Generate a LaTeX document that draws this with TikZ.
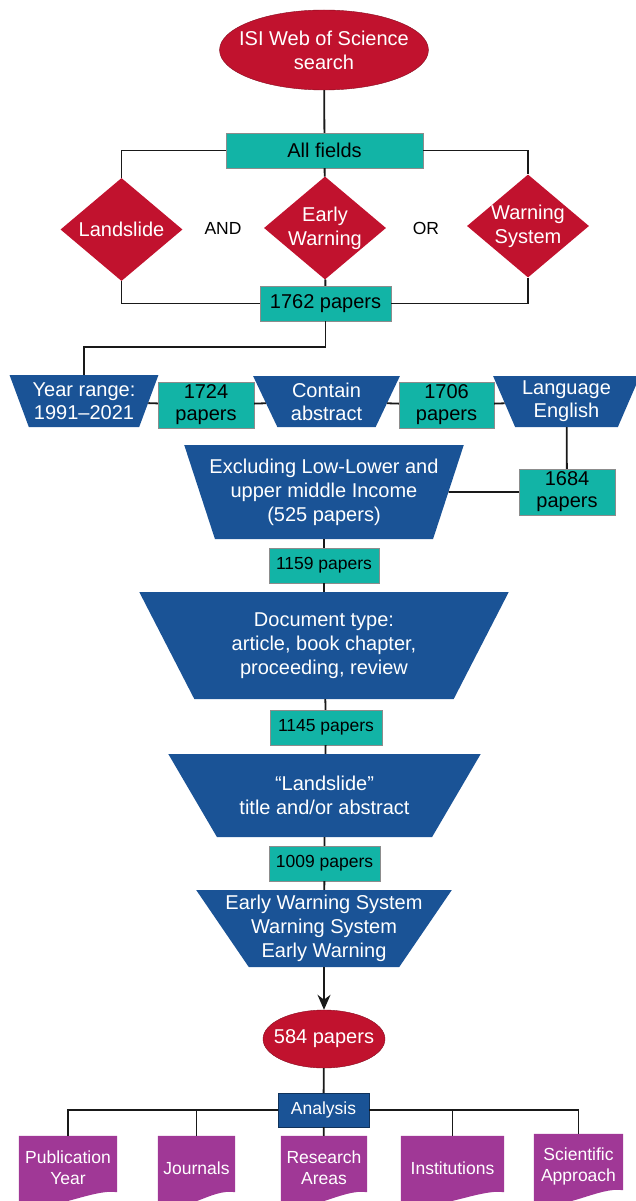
\documentclass[tikz,border=0pt]{standalone}
\usepackage{fontspec}
\setmainfont{Liberation Sans}
\usetikzlibrary{shapes.geometric,arrows.meta,backgrounds}

\definecolor{wosred}{RGB}{193,18,46}
\definecolor{wosteal}{RGB}{18,180,166}
\definecolor{wosblue}{RGB}{26,83,150}
\definecolor{wospurple}{RGB}{160,56,150}

\tikzset{
  bigtext/.style={font=\fontsize{20}{24}\selectfont},
  smalltext/.style={font=\fontsize{17.5}{21}\selectfont},
  redell/.style={ellipse, fill=wosred, draw=wosred!70!black, text=white, bigtext, inner ysep=0pt, align=center},
  query/.style={diamond, fill=wosred, text=white, bigtext, aspect=1.18, inner sep=-1pt,
    minimum width=122pt, minimum height=103pt, align=center},
  count/.style={rectangle, fill=wosteal, draw=black!45, text=black, bigtext, inner sep=0pt, align=center},
  filter/.style={trapezium, shape border rotate=180, trapezium stretches=true, fill=wosblue,
    text=white, bigtext, inner sep=0pt, align=center},
  topic/.style={rectangle, text=white, smalltext, inner sep=0pt, minimum height=64pt, align=center},
  link/.style={line width=1.8pt, black!90},
}

\begin{document}
\begin{tikzpicture}[x=1pt,y=-1pt]
\useasboundingbox (0,0) rectangle (635,1201);

% Search terms
\node[redell, minimum width=206pt, minimum height=80pt, inner xsep=-11pt] (isi) at (324,50) {ISI Web of Science\\search};
\node[count, minimum width=197pt, minimum height=35pt] (fields) at (324.5,150.5) {All fields};
\node[query] (land) at (121.5,229.5) {Landslide};
\node[query] (early) at (325,228) {Early\\Warning};
\node[query] (warn) at (528,226) {Warning\\System};
\node[smalltext] (and) at (223,228) {AND};
\node[smalltext] (or) at (426,228) {OR};
\node[count, minimum width=131pt, minimum height=35pt] (n1762) at (325.5,303.5) {1762 papers};

\draw[link] (isi) -- (fields);
\draw[link] (fields.west) -| (land.north);
\draw[link] (fields.east) -| (warn.north);
\draw[link] (fields) -- (early);
\draw[link] (land.south) |- (n1762.west);
\draw[link] (warn.south) |- (n1762.east);
\draw[link] (early) -- (n1762);

% Filters
\node[filter, trapezium angle=65, minimum width=149pt, minimum height=52pt, inner xsep=-2pt,
  font=\fontsize{20}{23}\selectfont] (years) at (84,401) {Year range:\\1991--2021};
\node[count, minimum width=96pt, minimum height=46pt, font=\fontsize{20}{22}\selectfont] (n1724) at (206,405) {1724\\papers};
\node[filter, trapezium angle=65, minimum width=147pt, minimum height=51pt,
  font=\fontsize{20}{23}\selectfont] (abstr) at (326.5,401.5) {Contain\\abstract};
\node[count, minimum width=95pt, minimum height=46pt, font=\fontsize{20}{22}\selectfont] (n1706) at (446.5,405) {1706\\papers};
\node[filter, trapezium angle=65, minimum width=147pt, minimum height=51pt,
  font=\fontsize{20}{23}\selectfont] (lang) at (566.5,401.5) {Language\\English};
\node[count, minimum width=96pt, minimum height=46pt, font=\fontsize{20}{22}\selectfont] (n1684) at (567,492) {1684\\papers};
\node[filter, trapezium angle=67, minimum width=280pt, minimum height=94pt, inner xsep=-14pt] (income) at (324,492)
  {Excluding Low-Lower and\\upper middle Income\\(525 papers)};
\node[count, smalltext, minimum width=110pt, minimum height=35pt] (n1159) at (324,565.5) {1159 papers};
\node[filter, trapezium angle=59.3, minimum width=370pt, minimum height=107pt] (doctype) at (324,645.5)
  {Document type:\\article, book chapter,\\proceeding, review};
\node[count, smalltext, minimum width=112pt, minimum height=35pt] (n1145) at (326,727.5) {1145 papers};
\node[filter, trapezium angle=47.3, minimum width=313pt, minimum height=83pt, inner xsep=-6pt] (title) at (324.5,795.5)
  {“Landslide”\\title and/or abstract};
\node[count, smalltext, minimum width=111pt, minimum height=35pt] (n1009) at (324.5,863.5) {1009 papers};
\node[filter, trapezium angle=53.5, minimum width=256pt, minimum height=77pt, inner xsep=-28pt] (ews) at (324,928.5)
  {Early Warning System\\Warning System\\Early Warning};

\draw[link] (n1762.south) -- ++(0,26) -| (years.north);
\draw[link] (years) -- (n1724) -- (abstr) -- (n1706) -- (lang);
\draw[link] (lang) -- (n1684) -- (income);
\draw[link] (income) -- (n1159) -- (doctype) -- (n1145) -- (title) -- (n1009) -- (ews);

% Result and analysis
\node[redell, minimum width=122pt, minimum height=58pt, inner xsep=-13pt] (n584) at (324,1039) {584 papers};
\node[rectangle, fill=wosblue, draw=wosblue!60!black, text=white, smalltext, inner sep=0pt,
  minimum width=91pt, minimum height=34pt] (analysis) at (323.5,1110) {Analysis};

\draw[link, -{Stealth[length=15pt, width=13pt]}] (ews) -- (n584);
\draw[link] (n584) -- (analysis);

\node[topic, minimum width=98pt] (pubyear) at (68,1168) {Publication\\Year};
\node[topic, minimum width=77pt] (journals) at (196.5,1168) {Journals};
\node[topic, minimum width=86pt] (areas) at (324,1168) {Research\\Areas};
\node[topic, minimum width=103pt] (instit) at (452.5,1168) {Institutions};
\node[topic, minimum width=89pt] (approach) at (578.5,1166) {Scientific\\Approach};

\begin{scope}[on background layer]
\foreach \t in {pubyear,journals,areas,instit,approach}
  \fill[wospurple] (\t.north west) -- (\t.north east) -- ([yshift=8pt]\t.south east)
    .. controls +(-25pt,4pt) and +(30pt,-10pt) .. ([yshift=-4pt]\t.south west) -- cycle;
\end{scope}

\draw[link] (analysis.west) -| (pubyear.north);
\draw[link] (analysis.west) -| (journals.north);
\draw[link] (analysis.east) -| (instit.north);
\draw[link] (analysis.east) -| (approach.north);
\draw[link] (analysis) -- (areas);
\end{tikzpicture}
\end{document}
